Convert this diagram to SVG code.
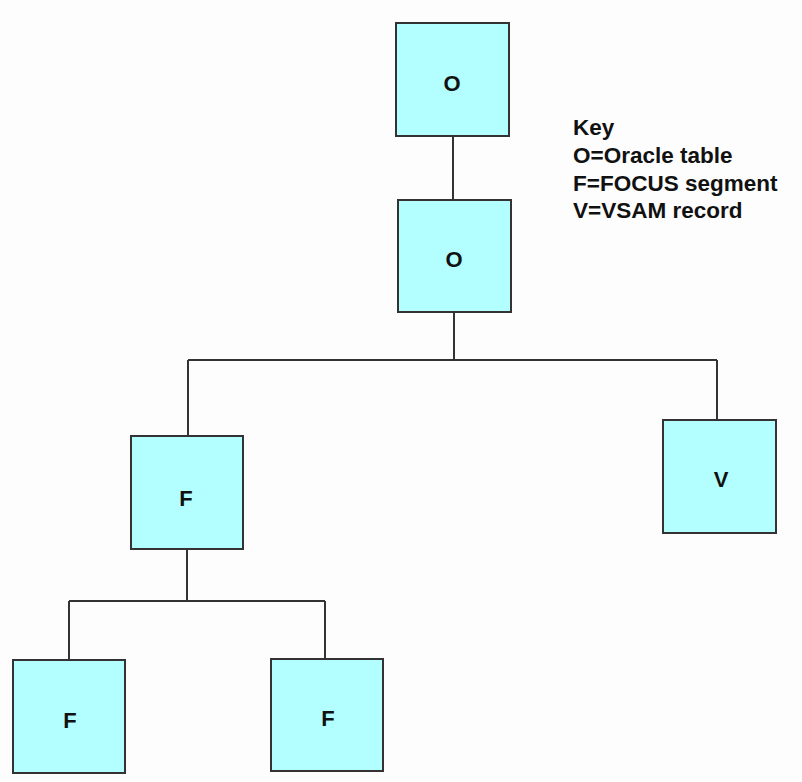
<svg xmlns="http://www.w3.org/2000/svg" width="802" height="782" viewBox="0 0 802 782">
<style>
.box{fill:#b3ffff;stroke:#333;stroke-width:2}
.lbl{font-family:"Liberation Sans",Arial,sans-serif;font-weight:bold;font-size:22px;fill:#111;text-anchor:middle}
.key{font-family:"Liberation Sans",Arial,sans-serif;font-weight:bold;font-size:22.5px;fill:#111}
.conn{fill:none;stroke:#333;stroke-width:2}
</style>
<rect width="802" height="782" fill="#fdfdfd"/>
<g id="connectors">
<line class="conn" x1="453" y1="136" x2="453" y2="200"/>
<path class="conn" d="M454 312 V360 M188 360 H717 M188 360 V436 M717 360 V420"/>
<path class="conn" d="M187 549 V601 M69 601 H325 M69 601 V660 M325 601 V659"/>
</g>
<g id="node-o1"><rect class="box" x="396" y="23" width="113" height="113"/><text class="lbl" x="452" y="91">O</text></g>
<g id="node-o2"><rect class="box" x="398" y="200" width="113" height="112"/><text class="lbl" x="454" y="267">O</text></g>
<g id="node-f1"><rect class="box" x="131" y="436" width="112" height="113"/><text class="lbl" x="186" y="506">F</text></g>
<g id="node-v"><rect class="box" x="663" y="420" width="113" height="113"/><text class="lbl" x="721" y="487">V</text></g>
<g id="node-f2"><rect class="box" x="13" y="660" width="112" height="113"/><text class="lbl" x="70" y="728">F</text></g>
<g id="node-f3"><rect class="box" x="271" y="659" width="112" height="112"/><text class="lbl" x="328" y="726">F</text></g>
<g id="key">
<text class="key" x="573" y="135">Key</text>
<text class="key" x="573" y="163">O=Oracle table</text>
<text class="key" x="573" y="191">F=FOCUS segment</text>
<text class="key" x="573" y="218">V=VSAM record</text>
</g>
</svg>
